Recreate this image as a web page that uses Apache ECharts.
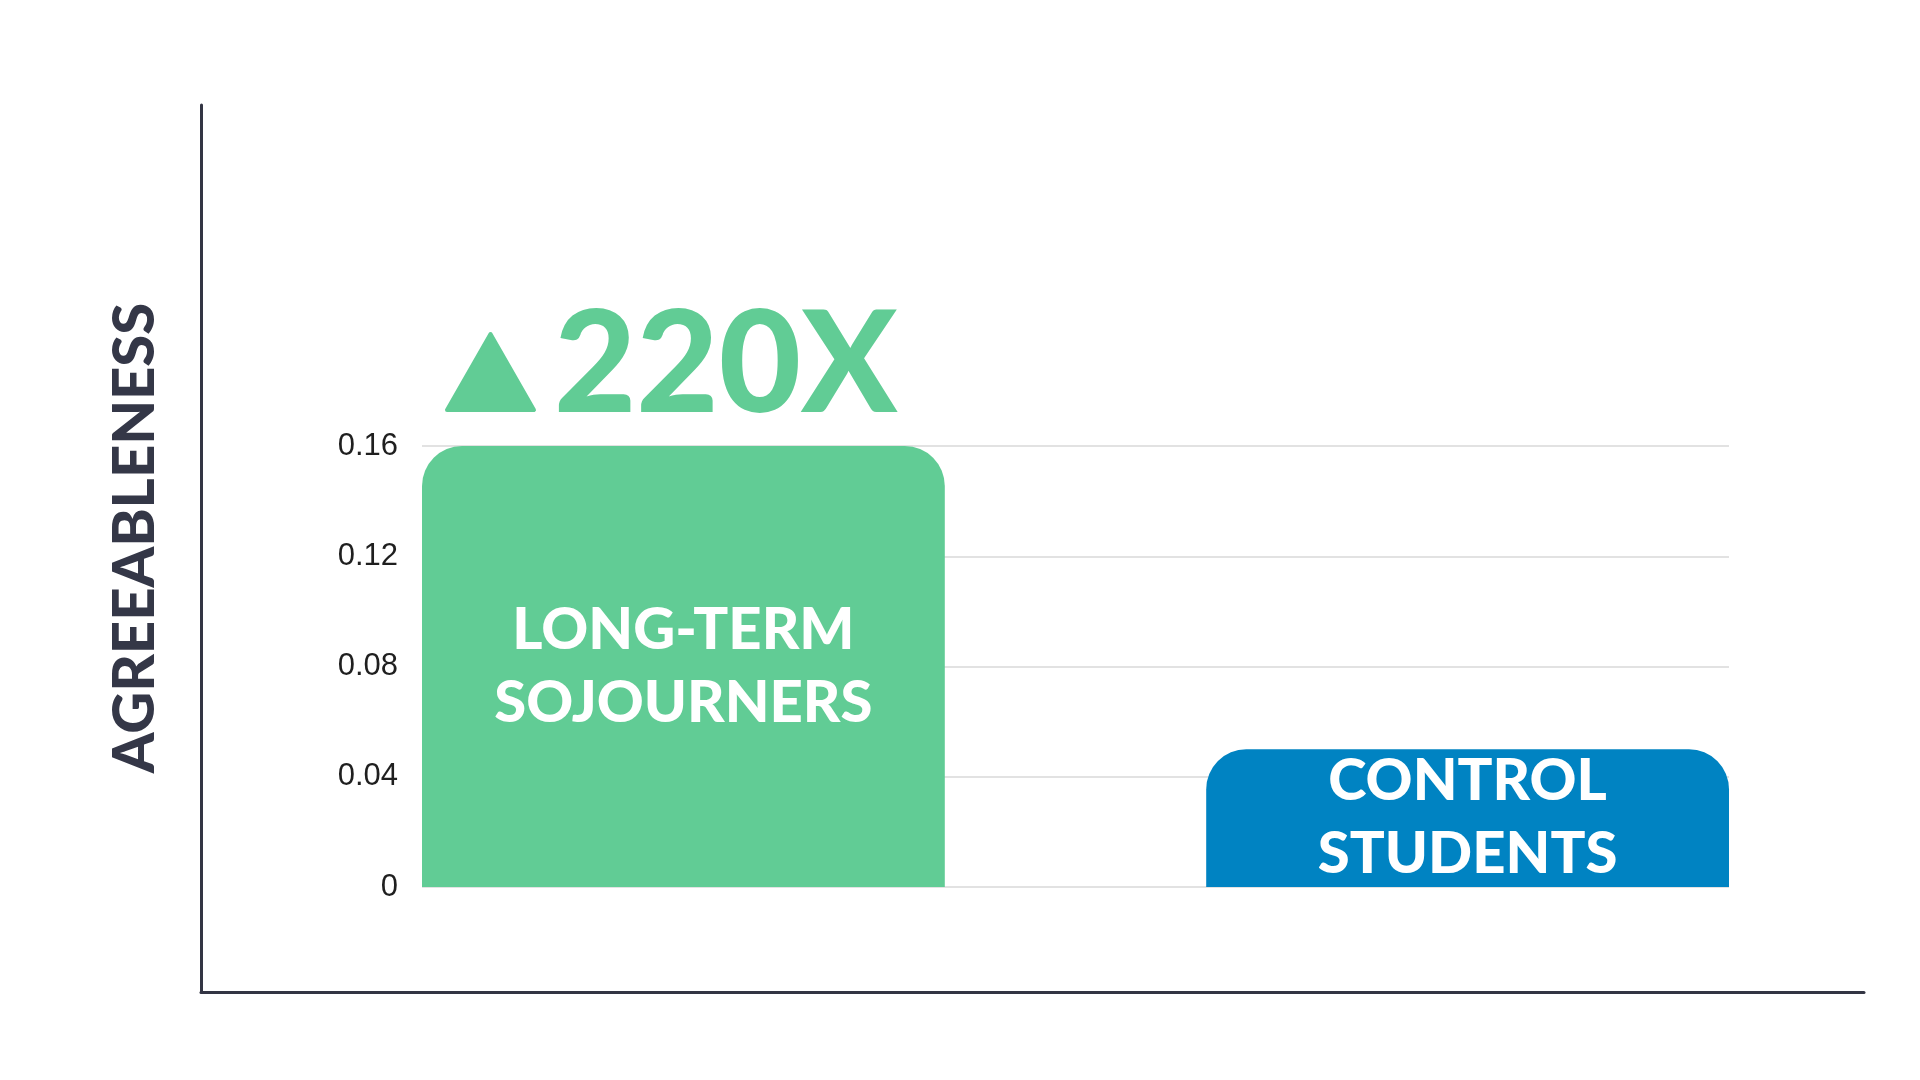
<!DOCTYPE html>
<html>
<head>
<meta charset="utf-8">
<script src="https://cdn.jsdelivr.net/npm/echarts@6/dist/echarts.min.js"></script>
<style>
html,body{margin:0;padding:0;background:#fff;}
#chart{width:1920px;height:1080px;}
</style>
</head>
<body>
<div id="chart"></div>
<script>
// ---- data ----
var categories = ["LONG-TERM\nSOJOURNERS", "CONTROL\nSTUDENTS"];
var values = [0.16, 0.05];
var barColors = ["#61cc95", "#0083c2"];
var yTicks = { min: 0, max: 0.16, interval: 0.04 };
var yAxisTitle = "AGREEABLENESS";
var headline = "220X";

var chart = echarts.init(document.getElementById('chart'), null, { renderer: 'canvas' });

var series = categories.map(function (c, idx) {
  return {
    type: 'bar',
    xAxisIndex: 0,
    yAxisIndex: 0,
    barWidth: '80%',
    barGap: '-75%',
    data: values.map(function (v, i) { return i === idx ? v : null; }),
    itemStyle: { color: barColors[idx], borderRadius: [40, 40, 0, 0] },
    label: {
      show: true,
      position: 'inside',
      formatter: function () { return c; },
      color: '#ffffff',
      fontFamily: 'Lato',
      fontWeight: 900,
      fontSize: 58,
      lineHeight: 73
    },
    silent: true
  };
});

var option = {
  backgroundColor: '#ffffff',
  animation: false,
  grid: [
    { left: 422, right: 191, top: 446, bottom: 193 },
    { left: 201, right: 56, top: 105, bottom: 88 }
  ],
  xAxis: [
    {
      gridIndex: 0, type: 'category', data: categories,
      axisLine: { show: false }, axisTick: { show: false }, axisLabel: { show: false },
      splitLine: { show: false }
    },
    {
      gridIndex: 1, type: 'value', min: 0, max: 1,
      axisLine: { show: true, lineStyle: { color: '#333544', width: 3 } },
      axisTick: { show: false }, axisLabel: { show: false }, splitLine: { show: false }
    }
  ],
  yAxis: [
    {
      gridIndex: 0, type: 'value', min: yTicks.min, max: yTicks.max, interval: yTicks.interval,
      axisLine: { show: false }, axisTick: { show: false },
      axisLabel: { fontSize: 31, color: '#1f1f1f', fontFamily: 'Liberation Sans', margin: 24 },
      splitLine: { show: true, lineStyle: { color: '#d8d8d8', width: 1.5 } }
    },
    {
      gridIndex: 1, type: 'value', min: 0, max: 1,
      axisLine: { show: true, lineStyle: { color: '#333544', width: 3 } },
      axisTick: { show: false }, axisLabel: { show: false }, splitLine: { show: false }
    }
  ],
  series: series,
  graphic: [
    {
      type: 'text',
      x: 135, y: 538,
      rotation: Math.PI / 2,
      style: {
        text: yAxisTitle,
        fill: '#343747',
        font: '900 58px Lato',
        align: 'center',
        verticalAlign: 'middle'
      },
      silent: true
    },
    {
      type: 'polygon',
      shape: { points: [[447, 410], [490.5, 334], [534, 410]] },
      style: { fill: barColors[0], stroke: barColors[0], lineWidth: 4, lineJoin: 'round' },
      silent: true
    },
    {
      type: 'text',
      x: 554, y: 366,
      style: {
        text: headline,
        fill: barColors[0],
        font: '900 142px Lato',
        align: 'left',
        verticalAlign: 'middle'
      },
      silent: true
    }
  ]
};
chart.setOption(option);
</script>
</body>
</html>
